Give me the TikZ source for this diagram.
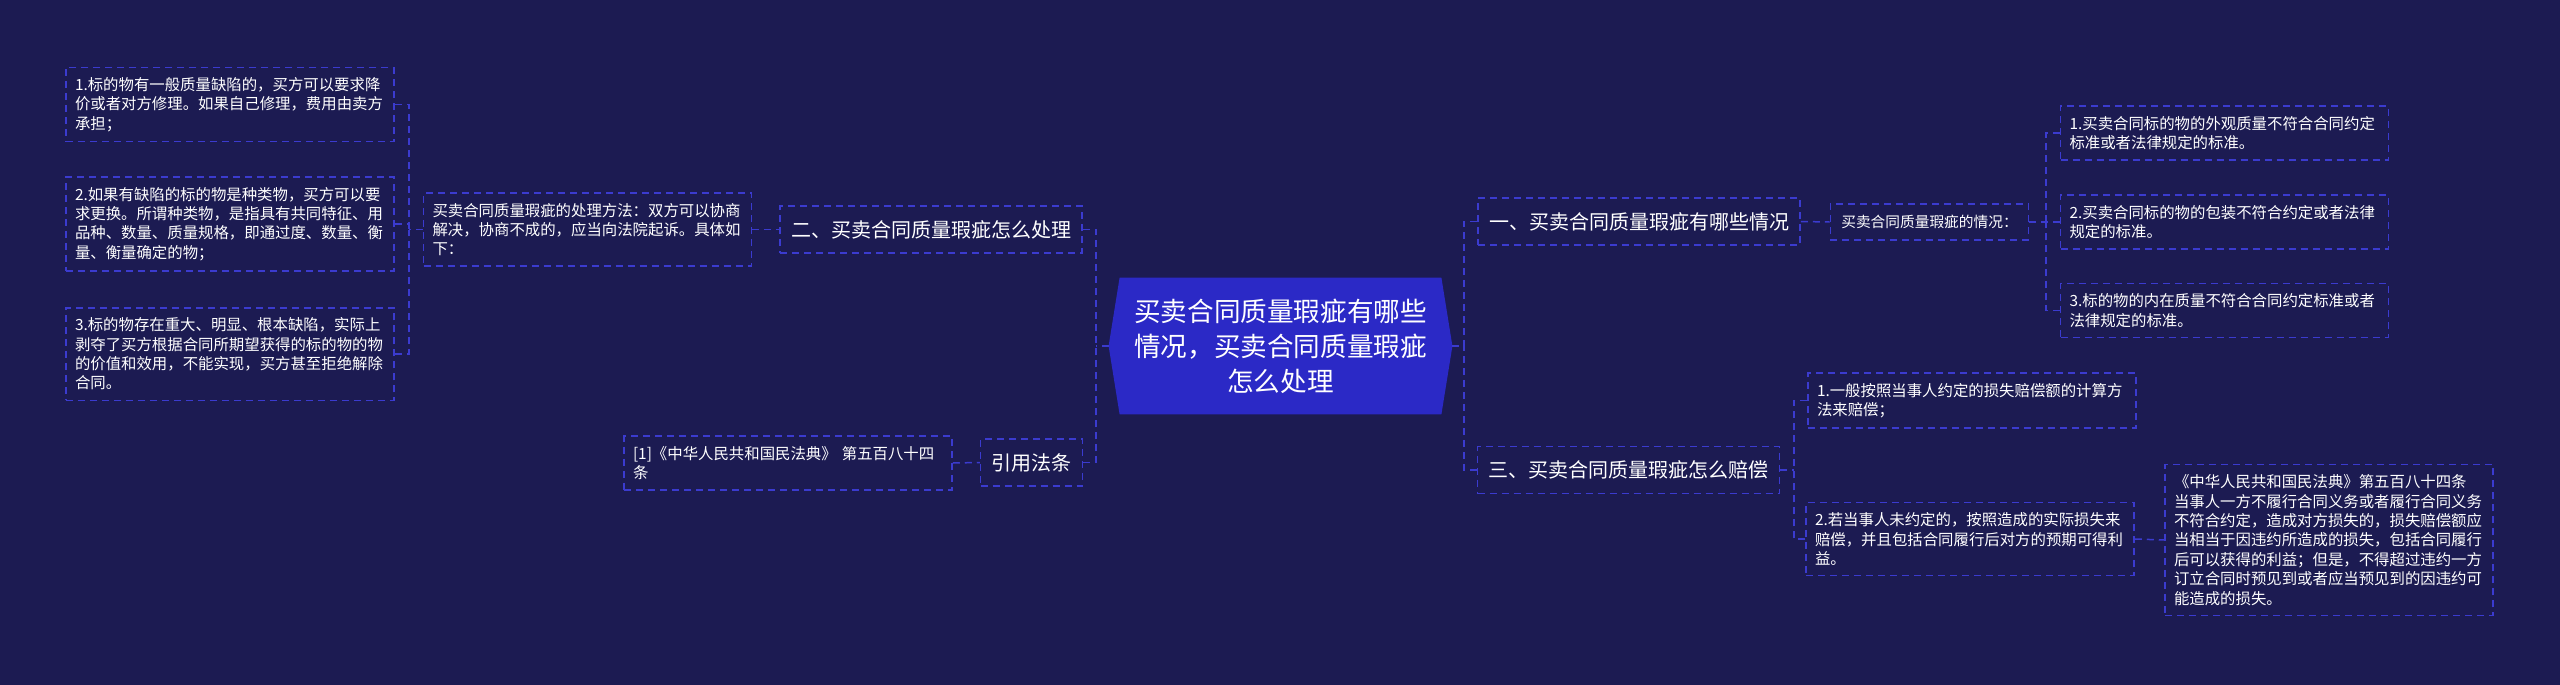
\documentclass[tikz,border=0pt]{standalone}
\usepackage{fontspec}
\setmainfont{Noto Sans CJK SC}
\usetikzlibrary{positioning,backgrounds}
\definecolor{bgnavy}{HTML}{1C1B52}
\definecolor{linkblue}{HTML}{3B3BCF}
\definecolor{rootblue}{HTML}{2B29C6}
\tikzset{
    dashlink/.style={draw=linkblue,line width=0.75pt,dash pattern=on 3.5pt off 2.5pt},
    leafbox/.style={dashlink,text=white,font=\fontsize{7.7}{9.7}\selectfont,text width=155pt,align=left,inner xsep=4.5pt,inner ysep=5pt},
    midbox/.style={dashlink,text=white,font=\fontsize{7.35}{9}\selectfont,inner xsep=5.5pt,minimum height=18pt},
    branchbox/.style={dashlink,text=white,font=\fontsize{10}{12}\selectfont,inner xsep=5.5pt,minimum height=23.5pt},
    rootbox/.style={text=white,font=\fontsize{13.3}{17.5}\selectfont,align=center,minimum width=160.5pt,minimum height=68pt,inner sep=0pt}
}

\begin{document}
\begin{tikzpicture}[x=0.5pt,y=-0.5pt]
    \useasboundingbox (0,0) rectangle (2560,685);

    % Center
    \node[rootbox] (root) at (1280.5,346) {买卖合同质量瑕疵有哪些\\情况，买卖合同质量瑕疵\\怎么处理};
    \coordinate (rootL) at ([xshift=-5.5pt]root.west);
    \coordinate (rootR) at ([xshift=5.5pt]root.east);
    \begin{scope}[on background layer]
        \fill[bgnavy] (0,0) rectangle (2560,685);
        \fill[rootblue] (rootL) -- (root.north west) -- (root.north east) -- (rootR) -- (root.south east) -- (root.south west) -- cycle;
    \end{scope}

    % Left: how to handle
    \node[branchbox] (h2) at (931,229.5) {二、买卖合同质量瑕疵怎么处理};
    \node[leafbox] (h2desc) at (587.5,229.5) {买卖合同质量瑕疵的处理方法：双方可以协商\\解决，协商不成的，应当向法院起诉。具体如\\下：};
    \node[leafbox] (h2a) at (230,104.5) {1.标的物有一般质量缺陷的，买方可以要求降\\价或者对方修理。如果自己修理，费用由卖方\\承担；};
    \node[leafbox] (h2b) at (230,224) {2.如果有缺陷的标的物是种类物，买方可以要\\求更换。所谓种类物，是指具有共同特征、用\\品种、数量、质量规格，即通过度、数量、衡\\量、衡量确定的物；};
    \node[leafbox] (h2c) at (230,354) {3.标的物存在重大、明显、根本缺陷，实际上\\剥夺了买方根据合同所期望获得的标的物的物\\的价值和效用，不能实现，买方甚至拒绝解除\\合同。};

    % Left: cited law
    \node[branchbox] (cite) at (1031.5,462.5) {引用法条};
    \node[leafbox] (citeref) at (788,463) {[1]《中华人民共和国民法典》~第五百八十四\\条};

    % Right: which cases
    \node[branchbox] (h1) at (1639,221.5) {一、买卖合同质量瑕疵有哪些情况};
    \node[midbox] (h1desc) at (1929.5,222) {买卖合同质量瑕疵的情况：};
    \node[leafbox] (h1a) at (2224.5,133) {1.买卖合同标的物的外观质量不符合合同约定\\标准或者法律规定的标准。};
    \node[leafbox] (h1b) at (2224.5,222) {2.买卖合同标的物的包装不符合约定或者法律\\规定的标准。};
    \node[leafbox] (h1c) at (2224.5,310.5) {3.标的物的内在质量不符合合同约定标准或者\\法律规定的标准。};

    % Right: compensation
    \node[branchbox] (h3) at (1628.5,470) {三、买卖合同质量瑕疵怎么赔偿};
    \node[leafbox] (h3a) at (1972,400.5) {1.一般按照当事人约定的损失赔偿额的计算方\\法来赔偿；};
    \node[leafbox] (h3b) at (1970,539) {2.若当事人未约定的，按照造成的实际损失来\\赔偿，并且包括合同履行后对方的预期可得利\\益。};
    \node[leafbox] (law) at (2329,540) {《中华人民共和国民法典》第五百八十四条\\当事人一方不履行合同义务或者履行合同义务\\不符合约定，造成对方损失的，损失赔偿额应\\当相当于因违约所造成的损失，包括合同履行\\后可以获得的利益；但是，不得超过违约一方\\订立合同时预见到或者应当预见到的因违约可\\能造成的损失。};

    % Connectors, left
    \coordinate (jl) at (1096,346);
    \coordinate (jl2) at (409,229.5);
    \draw[dashlink] (rootL) -- (jl);
    \draw[dashlink] (h2.east) -| (jl);
    \draw[dashlink] (cite.east) -| (jl);
    \draw[dashlink] (h2desc.east) -- (h2.west);
    \draw[dashlink] (h2desc.west) -- (jl2);
    \foreach \n in {h2a,h2b,h2c}
        \draw[dashlink] (\n.east) -| (jl2);
    \draw[dashlink] (citeref.east) -- (cite.west);

    % Connectors, right
    \coordinate (jr) at (1464,346);
    \coordinate (jr2) at (2046,222);
    \coordinate (jr3) at (1794,470);
    \draw[dashlink] (rootR) -- (jr);
    \draw[dashlink] (h1.west) -| (jr);
    \draw[dashlink] (h3.west) -| (jr);
    \draw[dashlink] (h1.east) -- (h1desc.west);
    \draw[dashlink] (h1desc.east) -- (jr2);
    \foreach \n in {h1a,h1b,h1c}
        \draw[dashlink] (\n.west) -| (jr2);
    \draw[dashlink] (h3.east) -- (jr3);
    \foreach \n in {h3a,h3b}
        \draw[dashlink] (\n.west) -| (jr3);
    \draw[dashlink] (h3b.east) -- (law.west);
\end{tikzpicture}
\end{document}
